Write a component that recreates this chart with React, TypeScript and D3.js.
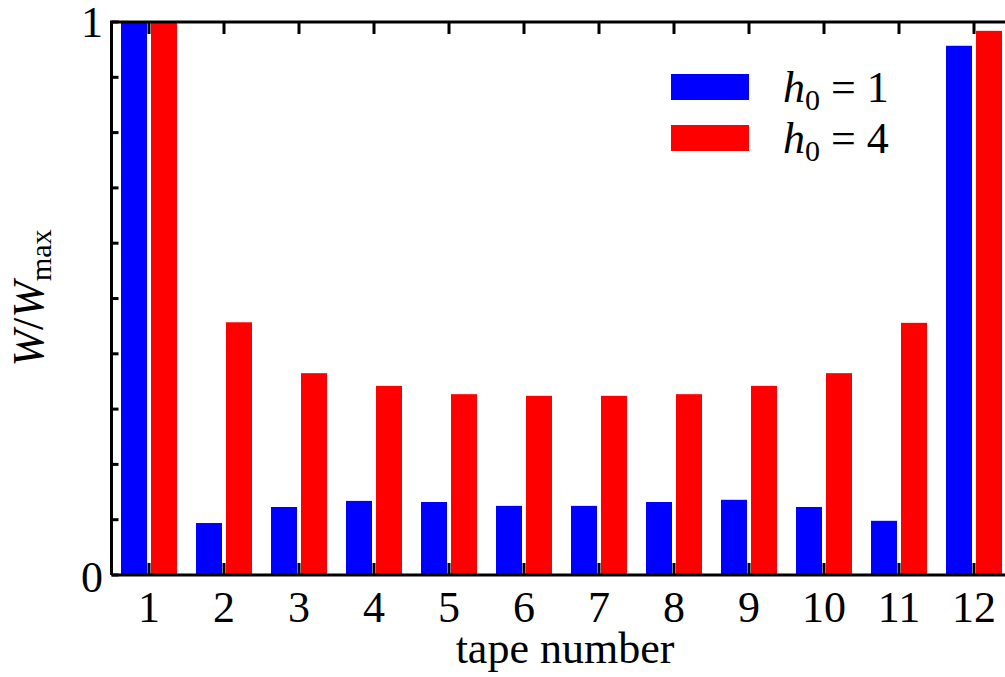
import React, { useEffect, useRef } from 'react';
import * as d3 from 'd3';

// tape numbers on the x axis
const tapes = [1, 2, 3, 4, 5, 6, 7, 8, 9, 10, 11, 12];
// normalised W/Wmax
const h1Values = [1.0, 0.094, 0.123, 0.134, 0.132, 0.125, 0.125, 0.132, 0.136, 0.123, 0.098, 0.957];
const h4Values = [1.0, 0.457, 0.365, 0.342, 0.327, 0.324, 0.324, 0.327, 0.342, 0.365, 0.456, 0.984];
const seriesNames = ['h1', 'h4'];
const seriesColors = ['#0000ff', '#ff0000'];
const legendValues = ['1', '4'];
const yTickLabels = [0, 1];

const App = () => {
  const ref = useRef<SVGSVGElement>(null);

  useEffect(() => {
    const width = 1005;
    const left = 111.5;
    const top = 22;
    const bottom = 575;
    const font = '"Liberation Serif", "Times New Roman", serif';
    const fs = 44;

    const svg = d3.select(ref.current);
    svg.selectAll('*').remove();

    const x0 = d3.scaleBand<number>()
      .domain(tapes)
      .range([left, left + tapes.length * 75])
      .padding(0);
    const x1 = d3.scaleBand<string>()
      .domain(seriesNames)
      .range([0, 56])
      .paddingInner(2 - 56 / 30)
      .paddingOuter(0);
    const y = d3.scaleLinear().domain([0, 1]).range([bottom, top]);

    const g = svg.append('g');

    // ticks (behind bars)
    const yTicks = d3.range(0, 11).map(d => d / 10);
    g.selectAll('.ytick')
      .data(yTicks)
      .enter()
      .append('line')
      .attr('x1', left)
      .attr('x2', left + 7)
      .attr('y1', d => y(d))
      .attr('y2', d => y(d))
      .attr('stroke', '#000')
      .attr('stroke-width', 3);

    tapes.forEach(t => {
      const cx = (x0(t) as number) + x0.bandwidth() / 2;
      g.append('line')
        .attr('x1', cx).attr('x2', cx)
        .attr('y1', bottom).attr('y2', bottom - 12)
        .attr('stroke', '#000').attr('stroke-width', 3);
      g.append('line')
        .attr('x1', cx).attr('x2', cx)
        .attr('y1', top).attr('y2', top + 12)
        .attr('stroke', '#000').attr('stroke-width', 3);
    });

    // bars
    const allSeries = [h1Values, h4Values];
    allSeries.forEach((vals, si) => {
      g.selectAll('.bar' + si)
        .data(vals)
        .enter()
        .append('rect')
        .attr('x', (d, i) => (x0(tapes[i]) as number) + x0.bandwidth() / 2 - 28 + (x1(seriesNames[si]) as number))
        .attr('y', d => y(d))
        .attr('width', x1.bandwidth())
        .attr('height', d => bottom + 1 - y(d))
        .attr('fill', seriesColors[si]);
    });

    // frame
    g.append('path')
      .attr('d', `M${left},${bottom} L${left},${top} L${width + 5},${top}`)
      .attr('fill', 'none')
      .attr('stroke', '#000')
      .attr('stroke-width', 3);
    g.append('line')
      .attr('x1', left).attr('x2', width + 5)
      .attr('y1', bottom).attr('y2', bottom)
      .attr('stroke', '#000').attr('stroke-width', 3);

    // y tick labels
    g.selectAll('.ylab')
      .data(yTickLabels)
      .enter()
      .append('text')
      .attr('x', 103)
      .attr('y', d => y(d) + (d === 0 ? 17 : 15))
      .attr('text-anchor', 'end')
      .attr('font-family', font)
      .attr('font-size', fs)
      .text(d => d);

    // x tick labels
    g.selectAll('.xlab')
      .data(tapes)
      .enter()
      .append('text')
      .attr('x', d => (x0(d) as number) + x0.bandwidth() / 2)
      .attr('y', 622)
      .attr('text-anchor', 'middle')
      .attr('font-family', font)
      .attr('font-size', fs)
      .text(d => d);

    // axis titles
    g.append('text')
      .attr('x', 565)
      .attr('y', 663)
      .attr('text-anchor', 'middle')
      .attr('font-family', font)
      .attr('font-size', fs)
      .text('tape number');

    const yt = g.append('text')
      .attr('transform', 'translate(43,298) rotate(-90)')
      .attr('text-anchor', 'middle')
      .attr('font-family', font)
      .attr('font-size', fs);
    yt.append('tspan').attr('font-style', 'italic').text('W');
    yt.append('tspan').text('/');
    yt.append('tspan').attr('font-style', 'italic').text('W');
    yt.append('tspan').attr('font-size', 30).attr('dy', 8).text('max');

    // legend
    seriesNames.forEach((s, i) => {
      const ly = 74 + i * 51;
      g.append('rect')
        .attr('x', 671).attr('y', ly)
        .attr('width', 78).attr('height', 26)
        .attr('fill', seriesColors[i]);
      const t = g.append('text')
        .attr('x', 783)
        .attr('y', ly + 28)
        .attr('font-family', font)
        .attr('font-size', fs);
      t.append('tspan').attr('font-style', 'italic').text('h');
      t.append('tspan').attr('font-size', 30).attr('dy', 8).text('0');
      t.append('tspan').attr('dy', -8).text(' = ' + legendValues[i]);
    });
  }, []);

  return <svg ref={ref} width={1005} height={677} style={{ position: 'absolute', left: 0, top: 0, background: '#fff' }} />;
};

export default App;
